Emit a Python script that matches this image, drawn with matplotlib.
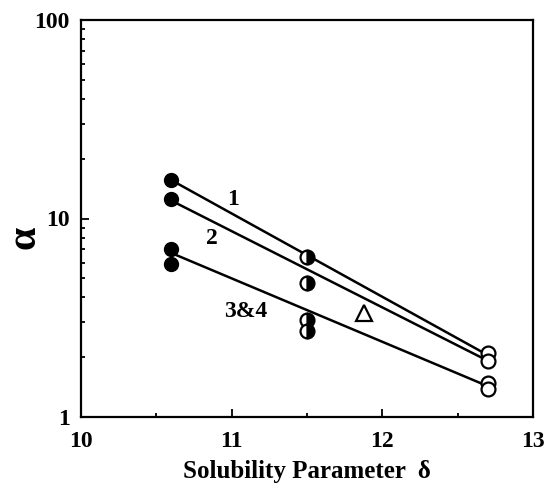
import numpy as np
import matplotlib
matplotlib.use("Agg")
import matplotlib.pyplot as plt
from matplotlib.ticker import LogLocator, NullFormatter, FixedLocator

# data
delta_filled = [10.6, 10.6, 10.6, 10.6]
alpha_filled = [15.6, 12.5, 7.0, 5.9]

delta_half = [11.5, 11.5, 11.5, 11.5]
alpha_half = [6.4, 4.75, 3.08, 2.72]

delta_open = [12.7, 12.7, 12.7, 12.7]
alpha_open = [2.09, 1.92, 1.49, 1.38]

delta_tri = [11.88]
alpha_tri = [3.33]

# fitted lines (end points)
line_delta = [10.6, 12.7]
line1_alpha = [15.6, 2.05]
line2_alpha = [12.3, 1.92]
line34_alpha = [6.7, 1.43]

labels = ["1", "2", "3&4"]
label_delta = [11.01, 10.87, 11.09]
label_alpha = [12.4, 7.95, 3.39]

plt.rcParams["font.family"] = "Liberation Serif"
plt.rcParams["font.weight"] = "bold"

fig = plt.figure(figsize=(5.47, 4.91), dpi=100)
ax = fig.add_axes([81 / 547, 1 - 417 / 491, 452 / 547, 397 / 491])

for a in (line1_alpha, line2_alpha, line34_alpha):
    ax.plot(line_delta, a, color="black", lw=1.8, zorder=2)

ax.plot(delta_filled, alpha_filled, "o", ms=10, color="black", zorder=3)
ax.plot(delta_half, alpha_half, "o", ms=10, color="black", fillstyle="right",
        markerfacecoloralt="white", mew=1.6, zorder=3)
ax.plot(delta_open, alpha_open, "o", ms=10, mfc="white", mec="black", mew=1.6, zorder=3)
ax.plot(delta_tri, alpha_tri, "^", ms=11, mfc="white", mec="black", mew=1.6, zorder=3)

for t, x, y in zip(labels, label_delta, label_alpha):
    ax.text(x, y, t, fontsize=17, fontweight="bold", ha="center", va="center")

ax.set_yscale("log")
ax.set_xlim(10, 13)
ax.set_ylim(1, 100)
ax.set_xticks([10, 11, 12, 13])
ax.set_xticklabels(["10", "11", "12", "13"])
ax.xaxis.set_minor_locator(FixedLocator([10.5, 11.5, 12.5]))
ax.yaxis.set_major_locator(FixedLocator([1, 10, 100]))
ax.set_yticklabels(["1", "10", "100"])
ax.yaxis.set_minor_locator(LogLocator(base=10, subs=np.arange(2, 10)))
ax.yaxis.set_minor_formatter(NullFormatter())

ax.tick_params(which="both", direction="in", top=False, right=False,
               labelsize=17, width=1.3)
ax.tick_params(which="major", length=6)
ax.tick_params(which="minor", length=3)
ax.tick_params(axis="y", which="major", pad=8)
ax.tick_params(axis="x", which="major", pad=10)
for lab in ax.get_xticklabels() + ax.get_yticklabels():
    lab.set_fontweight("bold")
for s in ax.spines.values():
    s.set_linewidth(1.6)

ax.set_xlabel("Solubility Parameter  \u03b4", fontsize=18, fontweight="bold", labelpad=6)
ax.set_ylabel("\u03b1", fontsize=30, fontweight="bold", rotation=90, va="center")
ax.yaxis.set_label_coords(-57 / 452, (417 - 237) / 397)

fig.savefig("out.png", dpi=100)
